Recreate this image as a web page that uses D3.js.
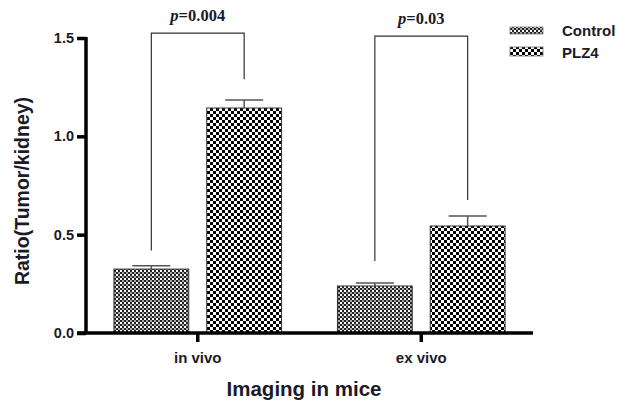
<!DOCTYPE html>
<html><head><meta charset="utf-8">
<script src="https://cdn.jsdelivr.net/npm/d3@7"></script>
<style>body{margin:0;background:#fff}svg{display:block}</style>
</head><body>
<script>
const groups = ["in vivo", "ex vivo"];
const series = ["Control", "PLZ4"];
const controlValues = [0.325, 0.239];
const controlErrors = [0.017, 0.015];
const plz4Values = [1.144, 0.544];
const plz4Errors = [0.041, 0.051];
const yTicks = [0.0, 0.5, 1.0, 1.5];
const pLabels = ["0.004", "0.03"];
const bracketTop = [1.525, 1.51];
const bracketLeftEnd = [0.42, 0.366];
const bracketRightEnd = [1.29, 0.676];

const W = 619, H = 406;
const svg = d3.select("body").append("svg").attr("width", W).attr("height", H);
const defs = svg.append("defs");
const p1 = defs.append("pattern").attr("id","pc").attr("patternUnits","userSpaceOnUse").attr("width",4).attr("height",4);
p1.append("rect").attr("width",4).attr("height",4).attr("fill","#fff");
p1.append("rect").attr("width",2).attr("height",2).attr("fill","#222");
p1.append("rect").attr("x",2).attr("y",2).attr("width",2).attr("height",2).attr("fill","#222");
p1.append("rect").attr("x",2).attr("y",0).attr("width",2).attr("height",2).attr("fill","#aaa");
const p2 = defs.append("pattern").attr("id","pp").attr("patternUnits","userSpaceOnUse").attr("width",6).attr("height",6);
p2.append("rect").attr("width",6).attr("height",6).attr("fill","#fff");
p2.append("rect").attr("width",3).attr("height",3).attr("fill","#000");
p2.append("rect").attr("x",3).attr("y",3).attr("width",3).attr("height",3).attr("fill","#000");
const fills = {Control:"url(#pc)", PLZ4:"url(#pp)"};

const x0 = d3.scaleBand().domain(groups).range([86, 533]).paddingInner(0.25).paddingOuter(0.125);
const x1 = d3.scaleBand().domain(series).range([0, x0.bandwidth()]).paddingInner(0.194);
const y = d3.scaleLinear().domain([0, 1.5]).range([333, 38]);

const data = [];
groups.forEach((g,i)=>{
  data.push({g, s:"Control", v:controlValues[i], e:controlErrors[i]});
  data.push({g, s:"PLZ4", v:plz4Values[i], e:plz4Errors[i]});
});
const textColor = "#1a1a28";
const sans = "Liberation Sans, Arial, sans-serif";

const eb = svg.append("g").attr("stroke","#555").attr("stroke-width",1.5);
data.forEach(d=>{
  const cx = x0(d.g) + x1(d.s) + x1.bandwidth()/2;
  eb.append("line").attr("x1",cx).attr("x2",cx).attr("y1",y(d.v)).attr("y2",y(d.v+d.e));
  eb.append("line").attr("x1",cx-19).attr("x2",cx+19).attr("y1",y(d.v+d.e)).attr("y2",y(d.v+d.e));
});
svg.append("g").selectAll("rect").data(data).join("rect")
  .attr("x", d=>x0(d.g)+x1(d.s)).attr("width", x1.bandwidth())
  .attr("y", d=>y(d.v)).attr("height", d=>y(0)-y(d.v))
  .attr("fill", d=>fills[d.s]).attr("stroke","#333").attr("stroke-width",1);

const br = svg.append("g").attr("stroke","#333").attr("stroke-width",1.2).attr("fill","none");
groups.forEach((g,i)=>{
  const xl = x0(g)+x1("Control")+x1.bandwidth()/2;
  const xr = x0(g)+x1("PLZ4")+x1.bandwidth()/2;
  br.append("path").attr("d", `M${xl},${y(bracketLeftEnd[i])}V${y(bracketTop[i])}H${xr}V${y(bracketRightEnd[i])}`);
  const t = svg.append("text").attr("x",(xl+xr)/2).attr("y", y(bracketTop[i]) - 12)
    .attr("text-anchor","middle").attr("font-family","Liberation Serif, Times New Roman, serif")
    .attr("font-size",16.5).attr("font-weight","bold").attr("fill",textColor);
  t.append("tspan").attr("font-style","italic").text("p");
  t.append("tspan").text("=" + pLabels[i]);
});

const yAxis = svg.append("g").attr("transform","translate(86,0)")
  .call(d3.axisLeft(y).tickValues(yTicks).tickFormat(d3.format(".1f")).tickSize(9).tickPadding(3));
yAxis.select(".domain").attr("stroke","#000").attr("stroke-width",3.5).attr("d","M0,334V37");
yAxis.selectAll(".tick line").attr("stroke","#000").attr("stroke-width",3.5);
yAxis.selectAll(".tick text").attr("font-family",sans).attr("font-size",14.5).attr("font-weight","bold").attr("fill",textColor);

const xAxis = svg.append("g").attr("transform","translate(0,333)")
  .call(d3.axisBottom(x0).tickSize(9).tickPadding(10));
xAxis.select(".domain").attr("stroke","#000").attr("stroke-width",3.5).attr("d","M77,0H533");
xAxis.selectAll(".tick line").attr("stroke","#000").attr("stroke-width",3.5);
xAxis.selectAll(".tick text").attr("font-family",sans).attr("font-size",15).attr("font-weight","bold").attr("fill",textColor);

svg.append("text").attr("x",304).attr("y",396).attr("text-anchor","middle")
  .attr("font-family",sans).attr("font-size",20.5).attr("font-weight","bold").attr("fill",textColor)
  .text("Imaging in mice");
svg.append("text").attr("transform","translate(29,191) rotate(-90)").attr("text-anchor","middle")
  .attr("font-family",sans).attr("font-size",19.5).attr("font-weight","bold").attr("fill",textColor)
  .text("Ratio(Tumor/kidney)");

const lg = svg.append("g").attr("transform","translate(510,24)");
series.forEach((s,i)=>{
  const row = lg.append("g").attr("transform",`translate(0,${i*22})`);
  row.append("rect").attr("x",0).attr("y",i===0?3:1).attr("width",33).attr("height",i===0?7:9)
    .attr("fill",fills[s]).attr("stroke","#777").attr("stroke-width",0.8);
  row.append("text").attr("x",52).attr("y",12).attr("font-family",sans)
    .attr("font-size",15).attr("font-weight","bold").attr("fill",textColor).text(s);
});
</script>
</body></html>
